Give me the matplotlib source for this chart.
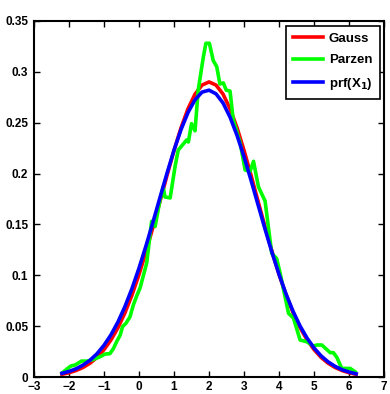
import numpy as np
import matplotlib.pyplot as plt

# =============================================================================
# Data
# =============================================================================

# x positions shared by the two smooth curves
curve_x = [-2.2, -2.0, -1.8, -1.6, -1.4, -1.2, -1.0, -0.8, -0.6, -0.4, -0.2,
           0.0, 0.2, 0.4, 0.6, 0.8, 1.0, 1.2, 1.4, 1.6, 1.8, 2.0, 2.2, 2.4,
           2.6, 2.8, 3.0, 3.2, 3.4, 3.6, 3.8, 4.0, 4.2, 4.4, 4.6, 4.8, 5.0,
           5.2, 5.4, 5.6, 5.8, 6.0, 6.2]

# Gauss fit (red)
gauss_y = [0.0027, 0.0042, 0.0064, 0.0094, 0.0136, 0.0193, 0.0269, 0.0365,
           0.0485, 0.0632, 0.0806, 0.1007, 0.1231, 0.1474, 0.1727, 0.1982,
           0.2226, 0.2449, 0.2637, 0.2780, 0.2869, 0.2900, 0.2869, 0.2780,
           0.2637, 0.2449, 0.2226, 0.1982, 0.1727, 0.1474, 0.1231, 0.1007,
           0.0806, 0.0632, 0.0485, 0.0365, 0.0269, 0.0193, 0.0136, 0.0094,
           0.0064, 0.0042, 0.0027]

# prf(X_1) (blue)
prf_y = [0.0037, 0.0055, 0.0081, 0.0117, 0.0165, 0.0229, 0.0312, 0.0415,
         0.0542, 0.0694, 0.0870, 0.1070, 0.1290, 0.1524, 0.1765, 0.2003,
         0.2230, 0.2432, 0.2600, 0.2725, 0.2800, 0.2819, 0.2783, 0.2693,
         0.2554, 0.2374, 0.2164, 0.1933, 0.1692, 0.1453, 0.1222, 0.1008,
         0.0815, 0.0645, 0.0501, 0.0382, 0.0285, 0.0208, 0.0149, 0.0105,
         0.0072, 0.0049, 0.0032]

# Parzen estimate (green)
parzen_x = [-2.19, -1.95, -1.83, -1.64, -1.49, -1.35, -1.11, -0.97, -0.83,
            -0.73, -0.64, -0.54, -0.47, -0.37, -0.26, -0.16, -0.05, 0.03,
            0.22, 0.36, 0.46, 0.60, 0.69, 0.74, 0.89, 1.03, 1.12, 1.36, 1.41,
            1.50, 1.60, 1.69, 1.84, 1.91, 2.01, 2.12, 2.22, 2.31, 2.41, 2.49,
            2.60, 2.69, 2.89, 3.03, 3.17, 3.27, 3.41, 3.60, 3.79, 3.93, 4.03,
            4.27, 4.41, 4.60, 4.79, 4.98, 5.08, 5.22, 5.46, 5.55, 5.65, 5.79,
            6.03, 6.17]
parzen_y = [0.0042, 0.0108, 0.0118, 0.0157, 0.0157, 0.0167, 0.020, 0.0226,
            0.023, 0.028, 0.0347, 0.041, 0.0495, 0.053, 0.059, 0.071, 0.081,
            0.0875, 0.112, 0.153, 0.148, 0.174, 0.187, 0.177, 0.176, 0.207,
            0.223, 0.233, 0.231, 0.249, 0.242, 0.282, 0.315, 0.328, 0.328,
            0.311, 0.305, 0.288, 0.289, 0.282, 0.281, 0.253, 0.230, 0.2035,
            0.202, 0.212, 0.187, 0.173, 0.1215, 0.1165, 0.102, 0.0626, 0.058,
            0.0364, 0.0347, 0.0305, 0.0315, 0.0315, 0.024, 0.024, 0.0193,
            0.0085, 0.0085, 0.0052]

xticks = np.arange(-3, 8, 1)
yticks = [0, 0.05, 0.1, 0.15, 0.2, 0.25, 0.3, 0.35]
ytick_labels = ['0', '0.05', '0.1', '0.15', '0.2', '0.25', '0.3', '0.35']

# =============================================================================
# Plotting
# =============================================================================

plt.rcParams['font.family'] = ['Liberation Sans', 'DejaVu Sans']
plt.rcParams['font.weight'] = 'bold'
plt.rcParams['mathtext.default'] = 'bf'

fig = plt.figure(figsize=(3.9, 3.94), dpi=100)
ax = fig.add_axes([0.087, 0.043, 0.898, 0.904])

ax.plot(curve_x, gauss_y, color='red', lw=2.6, label='Gauss')
ax.plot(parzen_x, parzen_y, color='#00ff00', lw=2.6, label='Parzen')
ax.plot(curve_x, prf_y, color='blue', lw=2.6, label=r'prf(X$_1$)')

ax.set_xlim(-3, 7)
ax.set_ylim(0, 0.35)
ax.set_xticks(xticks)
ax.set_yticks(yticks)
ax.set_yticklabels(ytick_labels)
ax.tick_params(direction='in', top=True, right=True, length=4, width=1,
               labelsize=8.5)
ax.tick_params(axis='x', pad=3)
ax.tick_params(axis='y', pad=4)
for lab in ax.get_xticklabels() + ax.get_yticklabels():
    lab.set_fontweight('bold')
for s in ax.spines.values():
    s.set_linewidth(1.5)

leg = ax.legend(loc='upper right', prop={'weight': 'bold', 'size': 9.5},
                fancybox=False, edgecolor='black', framealpha=1,
                handlelength=2.3, borderaxespad=0.35, labelspacing=0.7,
                handletextpad=0.4, borderpad=0.55)
leg.get_frame().set_linewidth(1.2)

fig.savefig('out.png', dpi=100)
